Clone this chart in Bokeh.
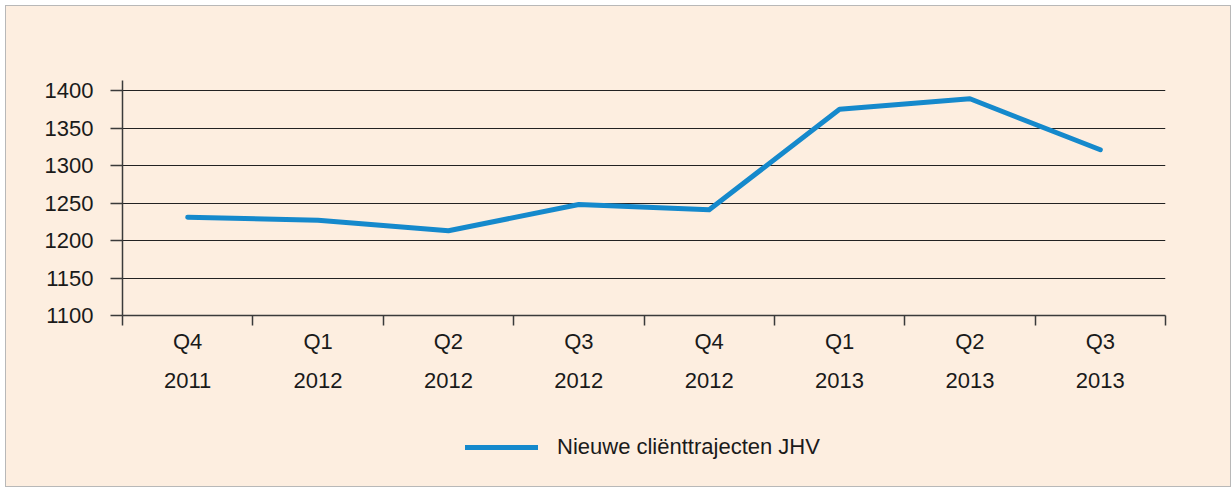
from bokeh.plotting import figure
from bokeh.models import Range1d, FixedTicker, LinearAxis, Legend, LegendItem, Grid
from bokeh.layouts import column
from bokeh.embed import file_html
from bokeh.resources import INLINE

quarters = ["Q4", "Q1", "Q2", "Q3", "Q4", "Q1", "Q2", "Q3"]
years = ["2011", "2012", "2012", "2012", "2012", "2013", "2013", "2013"]
values = [1231, 1227, 1213, 1248, 1241, 1375, 1389, 1321]
y_ticks = [1100, 1150, 1200, 1250, 1300, 1350, 1400]
series_name = "Nieuwe cliënttrajecten JHV"

BG = "#fdeee0"
FONT = "Liberation Sans"
TXT = "#1a1a1a"
AX = "#3a3a3a"
LINE = "#1589cc"

n = len(values)
xs = [i + 0.5 for i in range(n)]

p = figure(width=1224, height=410,
           x_range=Range1d(0, n), y_range=Range1d(1100, 1413.4),
           output_backend="svg", toolbar_location=None,
           x_axis_location=None, y_axis_location=None,
           min_border_left=116, min_border_right=65,
           min_border_top=74, min_border_bottom=101)
p.xgrid.grid_line_color = None
p.ygrid.grid_line_color = None
p.background_fill_color = BG
p.border_fill_color = BG
p.outline_line_color = None

yaxis = LinearAxis(ticker=FixedTicker(ticks=y_ticks, minor_ticks=[]),
                   major_tick_out=12, major_tick_in=0, minor_tick_out=0, minor_tick_in=0,
                   major_label_standoff=17, axis_line_color=AX, axis_line_width=1.5,
                   major_tick_line_color=AX, major_tick_line_width=1.5,
                   major_label_text_font=FONT, major_label_text_font_size="22px",
                   major_label_text_color=TXT)
p.add_layout(yaxis, "left")
p.add_layout(Grid(dimension=1, ticker=yaxis.ticker, grid_line_color="#222222",
                  grid_line_width=1.2))

xaxis_q = LinearAxis(ticker=FixedTicker(ticks=xs, minor_ticks=list(range(n + 1))),
                     major_tick_out=0, major_tick_in=0, minor_tick_out=10, minor_tick_in=0,
                     minor_tick_line_color=AX, minor_tick_line_width=1.5,
                     axis_line_color=AX, axis_line_width=1.5,
                     major_label_overrides={x: q for x, q in zip(xs, quarters)},
                     major_label_standoff=3,
                     major_label_text_font=FONT, major_label_text_font_size="22px",
                     major_label_text_color=TXT)
p.add_layout(xaxis_q, "below")

xaxis_y = LinearAxis(ticker=FixedTicker(ticks=xs, minor_ticks=[]),
                     major_tick_out=0, major_tick_in=0, minor_tick_out=0, minor_tick_in=0,
                     axis_line_color=None,
                     major_label_overrides={x: y for x, y in zip(xs, years)},
                     major_label_standoff=16,
                     major_label_text_font=FONT, major_label_text_font_size="22px",
                     major_label_text_color=TXT)
p.add_layout(xaxis_y, "below")

p.line(xs, values, line_color=LINE, line_width=5,
       line_cap="round", line_join="round")

# legend strip below the chart (same series, kept outside this strip's view)
p2 = figure(width=1224, height=70, x_range=Range1d(0, 1), y_range=Range1d(0, 1),
            output_backend="svg", toolbar_location=None,
            x_axis_location=None, y_axis_location=None, min_border=0)
p2.xgrid.grid_line_color = None
p2.ygrid.grid_line_color = None
p2.background_fill_color = BG
p2.border_fill_color = BG
p2.outline_line_color = None
r2 = p2.line(xs, values, line_color=LINE, line_width=5, line_cap="round")

legend = Legend(items=[LegendItem(label=series_name, renderers=[r2])],
                location=(343, 26), orientation="horizontal",
                glyph_width=73, glyph_height=20, label_standoff=19,
                border_line_color=None, background_fill_alpha=0,
                label_text_font=FONT, label_text_font_size="22px",
                label_text_color=TXT, margin=0, padding=10)
p2.add_layout(legend)

layout = column(p, p2, spacing=0,
                styles={"border": "1px solid #b8b8b8", "margin-left": "5px",
                        "margin-top": "5px", "background-color": BG})

open("out.html", "w").write(file_html(layout, INLINE))
